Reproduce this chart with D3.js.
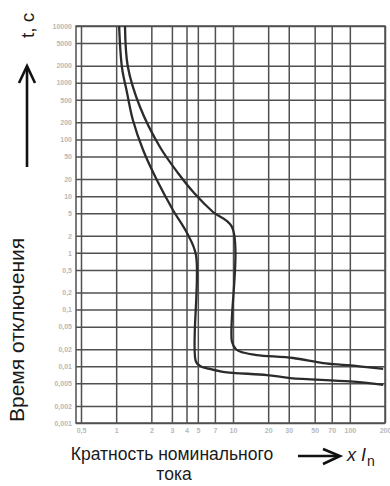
<!DOCTYPE html>
<html>
<head>
<meta charset="utf-8">
<script src="https://cdn.jsdelivr.net/npm/d3@7"></script>
<style>
  html, body { margin: 0; padding: 0; background: #fff; }
  svg { display: block; font-family: "Liberation Sans", Arial, sans-serif; }
</style>
</head>
<body>
<svg id="chart" width="390" height="486"></svg>
<script>
// ---- data ----
const xTicks = [0.5, 1, 2, 3, 4, 5, 7, 10, 20, 30, 50, 70, 100, 200];
const xTickLabels = ["0,5", "1", "2", "3", "4", "5", "7", "10", "20", "30", "50", "70", "100", "200"];
const yTicks = [10000, 5000, 2000, 1000, 500, 200, 100, 50, 20, 10, 5, 2, 1,
                0.5, 0.2, 0.1, 0.05, 0.02, 0.01, 0.005, 0.002, 0.001];
const yTickLabels = ["10000", "5000", "2000", "1000", "500", "200", "100", "50", "20", "10", "5", "2", "1",
                     "0,5", "0,2", "0,1", "0,05", "0,02", "0,01", "0,005", "0,002", "0,001"];

// lower tripping curve (multiple of In, seconds)
const lowerX = [1.06, 1.12, 1.24, 1.39, 1.7, 2.23, 3.06, 4.04, 4.82, 4.82, 5.32, 6.0, 8.2, 19.5, 31, 100, 193];
const lowerT = [10000, 1890, 660, 220, 65, 19.2, 5.7, 2.24, 0.92, 0.012, 0.0099, 0.0092, 0.008, 0.007, 0.0062, 0.0054, 0.0047];
// upper tripping curve
const upperX = [1.19, 1.26, 1.6, 2.37, 3.38, 4.73, 6.74, 9.8, 9.8, 10.6, 12.2, 16, 32.7, 59, 95, 193];
const upperT = [10000, 1890, 373, 73.5, 25.6, 10.9, 5.25, 2.86, 0.027, 0.02, 0.0175, 0.0158, 0.014, 0.0114, 0.0105, 0.009];

// ---- layout ----
const plotLeft = 76, plotRight = 385, plotTop = 26, plotBottom = 423;
const svg = d3.select("#chart");

const x = d3.scaleLog().domain([0.5, 200]).range([81, 385]);
const y = d3.scaleLog().domain([0.001, 10000]).range([plotBottom, plotTop]);

const gridColor = "#505050";

// vertical grid + bottom labels
const xAxis = d3.axisBottom(x)
  .tickValues(xTicks)
  .tickFormat((d, i) => xTickLabels[i])
  .tickSize(-(plotBottom - plotTop))
  .tickPadding(5);
const gx = svg.append("g").attr("transform", `translate(0,${plotBottom})`).call(xAxis);
gx.select(".domain").remove();
gx.selectAll("line").attr("stroke", gridColor).attr("stroke-width", 1.5);
gx.selectAll("text").attr("fill", "#b8b8b8").attr("font-size", 7).attr("font-weight", "bold");

// horizontal grid + left labels
const yAxis = d3.axisLeft(y)
  .tickValues(yTicks)
  .tickFormat((d, i) => yTickLabels[i])
  .tickSize(-(plotRight - plotLeft))
  .tickPadding(4);
const gy = svg.append("g").attr("transform", `translate(${plotLeft},0)`).call(yAxis);
gy.select(".domain").remove();
gy.selectAll("line").attr("stroke", gridColor).attr("stroke-width", 1.5);
gy.selectAll("text").attr("fill", "#b8b8b8").attr("font-size", 7).attr("font-weight", "bold");

// frame
svg.append("rect")
  .attr("x", plotLeft).attr("y", plotTop)
  .attr("width", plotRight - plotLeft).attr("height", plotBottom - plotTop)
  .attr("fill", "none").attr("stroke", gridColor).attr("stroke-width", 1.5);

// curves
const line = d3.line()
  .x(d => x(d[0])).y(d => y(d[1]))
  .curve(d3.curveCatmullRom.alpha(0.5));

const lowerData = lowerX.map((v, i) => [v, lowerT[i]]);
const upperData = upperX.map((v, i) => [v, upperT[i]]);

[lowerData, upperData].forEach(data => {
  svg.append("path")
    .datum(data)
    .attr("d", line)
    .attr("fill", "none")
    .attr("stroke", "#2b2b2b")
    .attr("stroke-width", 2.3)
    .attr("stroke-linejoin", "round");
});

// ---- axis titles ----
svg.append("text")
  .attr("transform", "translate(24,422) rotate(-90)")
  .attr("font-size", 21)
  .attr("fill", "#1a1a1a")
  .text("Время отключения");

svg.append("text")
  .attr("transform", "translate(34,38) rotate(-90)")
  .attr("font-size", 19)
  .attr("fill", "#1a1a1a")
  .text("t, c");

// up arrow
svg.append("line")
  .attr("x1", 27).attr("y1", 167).attr("x2", 27).attr("y2", 67)
  .attr("stroke", "#111").attr("stroke-width", 2.6);
svg.append("polyline")
  .attr("points", "19,83 27,66 35,83")
  .attr("fill", "none").attr("stroke", "#111").attr("stroke-width", 2.6);

// bottom title
svg.append("text")
  .attr("x", 172).attr("y", 460)
  .attr("text-anchor", "middle")
  .attr("font-size", 17.5)
  .attr("fill", "#1a1a1a")
  .text("Кратность номинального");
svg.append("text")
  .attr("x", 174).attr("y", 480)
  .attr("text-anchor", "middle")
  .attr("font-size", 17.5)
  .attr("fill", "#1a1a1a")
  .text("тока");

// right arrow
svg.append("line")
  .attr("x1", 298).attr("y1", 456).attr("x2", 338).attr("y2", 456)
  .attr("stroke", "#111").attr("stroke-width", 2.6);
svg.append("polyline")
  .attr("points", "323,449 340,456 323,464")
  .attr("fill", "none").attr("stroke", "#111").attr("stroke-width", 2.6);

const xin = svg.append("text")
  .attr("x", 347).attr("y", 461)
  .attr("font-size", 18)
  .attr("fill", "#1a1a1a");
xin.append("tspan").attr("font-style", "italic").text("x ");
xin.append("tspan").attr("font-style", "italic").text("I");
xin.append("tspan").attr("font-size", 14).attr("dx", 1).attr("dy", 5).text("n");
</script>
</body>
</html>
